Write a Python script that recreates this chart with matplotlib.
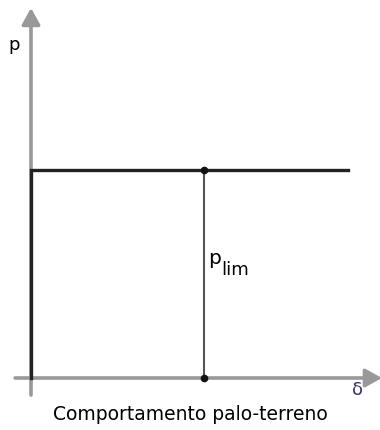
import matplotlib
matplotlib.use("Agg")
import matplotlib.pyplot as plt

# load-settlement behaviour (normalised units)
delta_curve = [0.0, 0.0, 1.0]
p_curve = [0.0, 1.0, 1.0]
delta_lim = 0.546
p_lim = 1.0

# axis extents (normalised)
delta_axis = (-0.05, 1.107)
p_axis = (-0.082, 1.779)

W, H = 380, 430
fig = plt.figure(figsize=(W / 100, H / 100), dpi=100)
ax = fig.add_axes([31 / W, (H - 378) / H, 317 / W, 208 / H])
ax.set_xlim(0, 1)
ax.set_ylim(0, 1)
ax.axis("off")

arrow = dict(arrowstyle="-|>,head_length=0.45,head_width=0.25", color="#999999",
             lw=2.6, mutation_scale=22, shrinkA=0, shrinkB=0)
ax.annotate("", xy=(0, p_axis[1]), xytext=(0, p_axis[0]),
            arrowprops=arrow, annotation_clip=False)
ax.annotate("", xy=(delta_axis[1], 0), xytext=(delta_axis[0], 0),
            arrowprops=arrow, annotation_clip=False)

ax.plot([delta_lim, delta_lim], [0, p_lim], color="#555555", lw=1.5,
        clip_on=False, zorder=3)
ax.plot(delta_curve, p_curve, color="#222222", lw=2.4, clip_on=False,
        solid_joinstyle="miter", zorder=4)
ax.plot([delta_lim, delta_lim], [0, p_lim], "o", color="#111111", ms=4.5,
        clip_on=False, zorder=5)

ax.text(-0.053, 1.6, "p", fontsize=13, ha="center", va="center")
ax.text(1.03, -0.06, "δ", fontsize=13, ha="center", va="center", color="#333366")

# p_lim label: subscript drawn at near full size, shifted down
ax.text(delta_lim + 0.012, 0.575, "p", fontsize=14.5, ha="left", va="center")
ax.text(delta_lim + 0.054, 0.52, "lim", fontsize=13, ha="left", va="center")

fig.text(0.5, (H - 415) / H, "Comportamento palo-terreno", fontsize=13.5,
         ha="center", va="center")

fig.savefig("out.png", dpi=100)
